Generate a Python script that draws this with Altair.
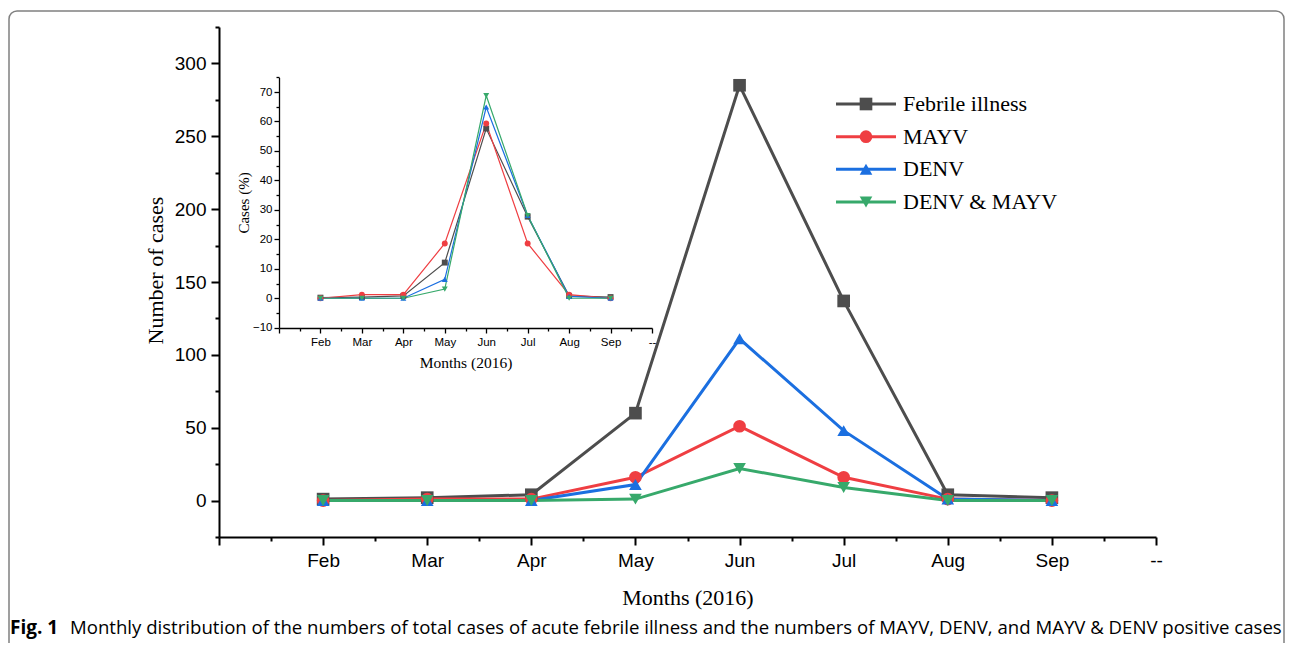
import altair as alt
import pandas as pd

# ---------------- data ----------------
months = ["Feb", "Mar", "Apr", "May", "Jun", "Jul", "Aug", "Sep"]
x_labels = ["", "Feb", "Mar", "Apr", "May", "Jun", "Jul", "Aug", "Sep", "--"]
series = ["Febrile illness", "MAYV", "DENV", "DENV & MAYV"]
colors = ["#4d4d4d", "#ef3e42", "#1b6fe0", "#37a96b"]
shapes = ["square", "circle", "triangle-up", "triangle-down"]

# main chart: number of cases
febrile = [1, 2, 4, 60, 285, 137, 4, 2]
mayv = [0, 1, 1, 16, 51, 16, 1, 0]
denv = [0, 0, 0, 11, 111, 48, 1, 0]
both = [0, 0, 0, 1, 22, 9, 0, 0]

# inset: cases (%)
febrile_pct = [0.2, 0.4, 0.8, 12.1, 57.6, 27.7, 0.8, 0.4]
mayv_pct = [0, 1.2, 1.2, 18.6, 59.3, 18.6, 1.2, 0]
denv_pct = [0, 0, 0, 6.4, 64.9, 28.1, 0.6, 0]
both_pct = [0, 0, 0, 3.1, 68.8, 28.1, 0, 0]

caption_bold = "Fig. 1"
caption_text = ("Monthly distribution of the numbers of total cases of acute febrile illness "
                "and the numbers of MAYV, DENV, and MAYV & DENV positive cases")


def long_df(values_list):
    rows = []
    for s, vals in zip(series, values_list):
        for m, v in zip(months, vals):
            rows.append({"month": m, "pos": x_labels.index(m), "series": s, "value": v})
    return pd.DataFrame(rows)


main_df = long_df([febrile, mayv, denv, both])
inset_df = long_df([febrile_pct, mayv_pct, denv_pct, both_pct])
legend_df = pd.DataFrame({"series": series})
one_df = pd.DataFrame({"k": [0]})

W, H = 937, 510

color_enc = alt.Color("series:N", scale=alt.Scale(domain=series, range=colors), legend=None)
shape_enc = alt.Shape("series:N", scale=alt.Scale(domain=series, range=shapes), legend=None)
order_enc = alt.Order("pos:Q")

label_js = "[" + ",".join("'" + l + "'" for l in x_labels) + "]"
x_label_expr = "datum.value % 1 === 0 ? " + label_js + "[datum.value] : ''"
half_ticks = [i / 2 for i in range(0, 19)]

SANS = "Liberation Sans"
SERIF = "Liberation Serif"

# ---------------- main chart ----------------
main_x = alt.X(
    "pos:Q",
    scale=alt.Scale(domain=[0, 9], nice=False, zero=False),
    axis=alt.Axis(
        orient="bottom", values=half_ticks, labelExpr=x_label_expr,
        tickSize={"condition": {"test": "datum.value % 1 !== 0", "value": 4}, "value": 8},
        tickWidth=2, tickColor="black", domainColor="black", domainWidth=2,
        labelFont=SANS, labelFontSize=19, labelColor="black", labelPadding=6,
        labelFlush=False, labelOverlap=False, grid=False,
        title="Months (2016)", titleFont=SERIF, titleFontSize=22, titleFontWeight="normal",
        titleColor="black", titleY=60, titleBaseline="middle",
    ),
)
main_y = alt.Y(
    "value:Q",
    scale=alt.Scale(domain=[-25, 325], nice=False, zero=False),
    axis=alt.Axis(
        orient="left", values=list(range(-25, 326, 25)),
        labelExpr="datum.value % 50 === 0 ? datum.label : ''",
        tickSize={"condition": {"test": "datum.value % 50 !== 0", "value": 4}, "value": 8},
        tickWidth=2, tickColor="black", domainColor="black", domainWidth=2,
        labelFont=SANS, labelFontSize=19, labelColor="black", labelPadding=5,
        labelFlush=False, labelOverlap=False, grid=False,
        title="Number of cases", titleFont=SERIF, titleFontSize=22, titleFontWeight="normal",
        titleColor="black", titleX=-64, titleY=243, titleBaseline="middle", titleAlign="center",
    ),
)
main_base = alt.Chart(main_df).encode(x=main_x, y=main_y, color=color_enc)
main = alt.layer(
    main_base.mark_line(strokeWidth=3).encode(order=order_enc, detail="series:N"),
    main_base.mark_point(filled=True, size=160, opacity=1).encode(shape=shape_enc),
)

# ---------------- inset chart ----------------
inset_x = alt.X(
    "pos:Q",
    scale=alt.Scale(domain=[0, 9], range=[60, 433], nice=False, zero=False),
    axis=alt.Axis(
        orient="bottom", offset=-209, values=half_ticks, labelExpr=x_label_expr,
        tickSize={"condition": {"test": "datum.value % 1 !== 0", "value": 3}, "value": 5},
        tickWidth=1.3, tickColor="black", domainColor="black", domainWidth=1.3,
        labelFont=SANS, labelFontSize=11.5, labelColor="black", labelPadding=3,
        labelFlush=False, labelOverlap=False, grid=False,
        title="Months (2016)", titleFont=SERIF, titleFontSize=15.5, titleFontWeight="normal",
        titleColor="black", titleY=34, titleBaseline="middle",
    ),
)
inset_y = alt.Y(
    "value:Q",
    scale=alt.Scale(domain=[-10, 75], range=[300.7, 50.3], nice=False, zero=False),
    axis=alt.Axis(
        orient="left", offset=-60, values=list(range(-10, 76, 5)),
        labelExpr="datum.value % 10 === 0 ? datum.label : ''",
        tickSize={"condition": {"test": "datum.value % 10 !== 0", "value": 3}, "value": 5},
        tickWidth=1.3, tickColor="black", domainColor="black", domainWidth=1.3,
        labelFont=SANS, labelFontSize=11.5, labelColor="black", labelPadding=2,
        labelFlush=False, labelOverlap=False, grid=False,
        title="Cases (%)", titleFont=SERIF, titleFontSize=15, titleFontWeight="normal",
        titleColor="black", titleX=-36, titleBaseline="middle", titleAlign="center",
    ),
)
inset_base = alt.Chart(inset_df).encode(x=inset_x, y=inset_y, color=color_enc)
inset = alt.layer(
    inset_base.mark_line(strokeWidth=1.2).encode(order=order_enc, detail="series:N"),
    inset_base.mark_point(filled=True, size=35, opacity=1).encode(shape=shape_enc),
)

# ---------------- custom legend ----------------
leg_y = alt.Y("series:N", scale=alt.Scale(type="point", domain=series, range=[77, 175], padding=0), axis=None)
leg_base = alt.Chart(legend_df).encode(y=leg_y)
legend = alt.layer(
    leg_base.mark_rule(strokeWidth=3).encode(x=alt.value(617), x2=alt.value(677), color=color_enc),
    leg_base.mark_point(filled=True, size=160, opacity=1).encode(x=alt.value(647), color=color_enc, shape=shape_enc),
    leg_base.mark_text(align="left", baseline="middle", font=SERIF, fontSize=22, color="black").encode(
        x=alt.value(684), text="series:N"),
)

# ---------------- frame & caption ----------------
frame = alt.Chart(one_df).mark_rect(cornerRadius=8, fillOpacity=0, stroke="#808080", strokeWidth=1.5).encode(
    x=alt.value(-210), x2=alt.value(1065), y=alt.value(-16), y2=alt.value(640))
cap1 = alt.Chart(one_df).mark_text(text=caption_bold, align="left", baseline="middle", font="Open Sans",
                                  fontWeight="bold", fontSize=19, color="black").encode(
    x=alt.value(-209), y=alt.value(601))
cap2 = alt.Chart(one_df).mark_text(text=caption_text, align="left", baseline="middle", font="Open Sans",
                                  fontSize=18.6, color="black").encode(
    x=alt.value(-149), y=alt.value(601))

chart = alt.layer(frame, main, inset, legend, cap1, cap2).resolve_scale(
    x="independent", y="independent"
).properties(
    width=W, height=H,
    padding={"left": 211, "top": 19, "right": 129, "bottom": 106},
    autosize=alt.AutoSizeParams(type="none"),
    background="white",
).configure_view(strokeOpacity=0)

chart.save("out.html", embed_options={"renderer": "svg", "actions": False})
